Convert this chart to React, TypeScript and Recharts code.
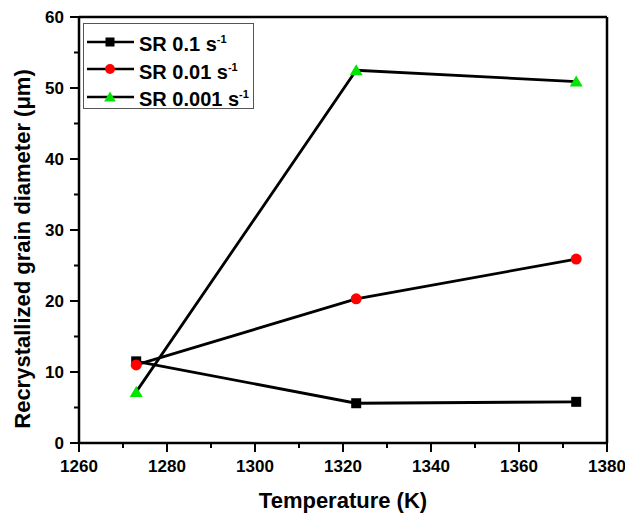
import { LineChart, Line, XAxis, YAxis, ReferenceLine, Legend, Label } from 'recharts';

// Temperatures (K) and recrystallized grain diameters (µm)
const temperatures = [1273, 1323, 1373];
const sr01 = [11.5, 5.6, 5.8];
const sr001 = [11.0, 20.3, 25.9];
const sr0001 = [7.2, 52.5, 50.9];

const xTicks = [1260, 1270, 1280, 1290, 1300, 1310, 1320, 1330, 1340, 1350, 1360, 1370, 1380];
const yTicks = [0, 5, 10, 15, 20, 25, 30, 35, 40, 45, 50, 55, 60];
const xMajor = [1260, 1280, 1300, 1320, 1340, 1360, 1380];
const yMajor = [0, 10, 20, 30, 40, 50, 60];

const series = [
  { key: 'sr01', name: 'SR 0.1 s', shape: 'square', color: '#000000' },
  { key: 'sr001', name: 'SR 0.01 s', shape: 'circle', color: '#ff0000' },
  { key: 'sr0001', name: 'SR 0.001 s', shape: 'triangle', color: '#00e600' },
];

const chartData = temperatures.map((t, i) => ({
  t,
  sr01: sr01[i],
  sr001: sr001[i],
  sr0001: sr0001[i],
}));

const FONT = '"Liberation Sans", Arial, sans-serif';

function Marker({ shape, color, cx, cy, s = 1 }: { shape: string; color: string; cx: number; cy: number; s?: number }) {
  if (shape === 'square') {
    return <rect x={cx - 5 * s} y={cy - 5 * s} width={10 * s} height={10 * s} fill={color} />;
  }
  if (shape === 'circle') {
    return <circle cx={cx} cy={cy} r={5.5 * s} fill={color} />;
  }
  return (
    <polygon
      points={`${cx},${cy - 6 * s} ${cx - 6.5 * s},${cy + 5 * s} ${cx + 6.5 * s},${cy + 5 * s}`}
      fill={color}
    />
  );
}

const renderXTick = ({ x, y, payload }: any) => {
  const major = xMajor.includes(payload.value);
  return (
    <g key={`xt-${payload.value}`}>
      <line x1={x} y1={y} x2={x} y2={y + (major ? 9 : 5)} stroke="#000" strokeWidth={2} />
      {major && (
        <text
          x={x}
          y={y + 29}
          textAnchor="middle"
          style={{ fontFamily: FONT, fontWeight: 700, fontSize: 17, fill: '#000' }}
        >
          {payload.value}
        </text>
      )}
    </g>
  );
};

const renderYTick = ({ x, y, payload }: any) => {
  const major = yMajor.includes(payload.value);
  return (
    <g key={`yt-${payload.value}`}>
      <line x1={x - (major ? 9 : 5)} y1={y} x2={x} y2={y} stroke="#000" strokeWidth={2} />
      {major && (
        <text
          x={x - 15}
          y={y + 6}
          textAnchor="end"
          style={{ fontFamily: FONT, fontWeight: 700, fontSize: 17, fill: '#000' }}
        >
          {payload.value}
        </text>
      )}
    </g>
  );
};

function LegendBox() {
  return (
    <div
      style={{
        width: 171,
        height: 86,
        boxSizing: 'border-box',
        border: '1px solid #555',
        background: '#fff',
        paddingTop: 4,
        fontFamily: FONT,
      }}
    >
      {series.map((s) => (
        <div key={s.key} style={{ display: 'flex', alignItems: 'center', height: 27.5 }}>
          <svg width={55} height={20} style={{ flex: 'none' }}>
            <line x1={3} y1={10} x2={50} y2={10} stroke="#000" strokeWidth={2.5} />
            <Marker shape={s.shape} color={s.color} cx={26} cy={10} s={0.9} />
          </svg>
          <span style={{ fontSize: 20, fontWeight: 700, color: '#000', whiteSpace: 'nowrap', lineHeight: '20px' }}>
            {s.name}
            <sup style={{ fontSize: 11 }}>-1</sup>
          </span>
        </div>
      ))}
    </div>
  );
}

function YTitle() {
  const x = 30;
  const y = 249;
  return (
    <text
      x={x}
      y={y}
      transform={`rotate(-90 ${x} ${y})`}
      textAnchor="middle"
      style={{ fontFamily: FONT, fontWeight: 700, fontSize: 22, fill: '#000' }}
    >
      Recrystallized grain diameter (μm)
    </text>
  );
}

export default function App() {
  return (
    <div style={{ position: 'absolute', left: 0, top: 0, width: 625, height: 517, background: '#fff' }}>
      <LineChart width={625} height={517} data={chartData} margin={{ top: 17, right: 18, left: 0, bottom: 0 }}>
        <XAxis
          dataKey="t"
          type="number"
          domain={[1260, 1380]}
          ticks={xTicks}
          interval={0}
          height={74}
          tickSize={0}
          tickMargin={0}
          tickLine={false}
          tick={renderXTick}
          axisLine={{ stroke: '#000', strokeWidth: 2.5 }}
        >
          <Label
            value="Temperature (K)"
            position="insideBottom"
            offset={9}
            style={{ fontFamily: FONT, fontWeight: 700, fontSize: 22, fill: '#000' }}
          />
        </XAxis>
        <YAxis
          type="number"
          domain={[0, 60]}
          ticks={yTicks}
          interval={0}
          width={79}
          tickSize={0}
          tickMargin={0}
          tickLine={false}
          tick={renderYTick}
          axisLine={{ stroke: '#000', strokeWidth: 2.5 }}
        >
          <Label content={<YTitle />} />
        </YAxis>
        <ReferenceLine y={60} stroke="#000" strokeWidth={2.5} />
        <ReferenceLine x={1380} stroke="#000" strokeWidth={2.5} />
        {series.map((s) => (
          <Line
            key={s.key}
            dataKey={s.key}
            name={s.name}
            type="linear"
            stroke="#000"
            strokeWidth={2.8}
            isAnimationActive={false}
            activeDot={false}
            dot={(p: any) => (
              <Marker key={`${s.key}-${p.index}`} shape={s.shape} color={s.color} cx={p.cx} cy={p.cy} />
            )}
          />
        ))}
        <Legend
          layout="vertical"
          align="center"
          verticalAlign="middle"
          content={<LegendBox />}
          wrapperStyle={{ left: 83, top: 23, width: 171, height: 86 }}
        />
      </LineChart>
    </div>
  );
}
